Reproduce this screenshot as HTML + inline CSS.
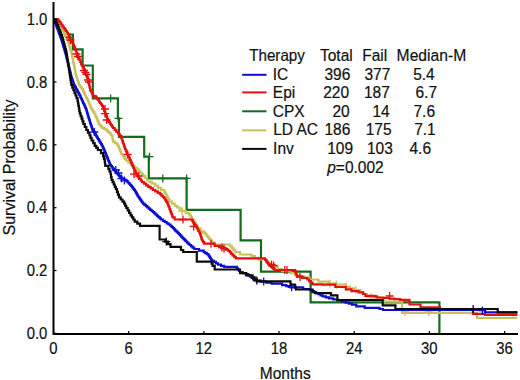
<!DOCTYPE html>
<html><head><meta charset="utf-8"><style>
html,body{margin:0;padding:0;background:#fff;width:520px;height:380px;overflow:hidden}
svg{display:block}
text{font-family:"Liberation Sans",sans-serif;font-size:15px;fill:#111;stroke:#111;stroke-width:0.2px}
.lg text{font-size:15.5px}
</style></head><body>
<svg width="520" height="380" viewBox="0 0 520 380">
<g fill="none" stroke-width="2.2" stroke-linejoin="miter" stroke-linecap="butt">
<path d="M68.5,34.5L72.9,34.5L72.9,49.4L82.6,49.4L82.6,65.5L92.8,65.5L92.8,98.4L117.9,98.4L117.9,118.4L119.0,118.4L119.0,136.8L144.2,136.8L144.2,156.7L148.8,156.7L148.8,178.4L186.6,178.4L186.6,209.8L240.6,209.8L240.6,240.3L261.0,240.3L261.0,271.7L310.6,271.7L310.6,302.3L439.4,302.3L439.4,334.0" stroke="#136c1c"/>
<path d="M110.6,94.4V102.4M106.6,98.4H114.6" stroke="#136c1c" stroke-width="1.3"/>
<path d="M118.4,114.4V122.4M114.4,118.4H122.4" stroke="#136c1c" stroke-width="1.3"/>
<path d="M149.5,152.7V160.7M145.5,156.7H153.5" stroke="#136c1c" stroke-width="1.3"/>
<path d="M162.8,174.4V182.4M158.8,178.4H166.8" stroke="#136c1c" stroke-width="1.3"/>
<path d="M186.6,174.4V182.4M182.6,178.4H190.6" stroke="#136c1c" stroke-width="1.3"/>
<path d="M54.5,19.2H56.3V21.4H57.4V23.3H58.5V25.1H59.6V27.0H60.7V28.8H61.9V30.7H63.0V32.6H64.1V34.4H65.2V36.3H66.3V38.1H67.4V40.0H67.9V41.8H68.5V43.5H69.0V45.2H69.5V47.0H70.0V48.8H70.5V50.5H71.1V52.2H71.6V54.0H72.0V55.8H72.3V57.7H72.7V59.5H73.1V61.3H73.4V63.2H73.8V65.0H74.2V66.8H74.5V68.7H74.9V70.5H75.3V72.3H75.6V74.2H76.0V76.0H76.6V77.8H77.2V79.6H77.8V81.4H78.4V83.2H79.0V85.0H80.3V87.1H81.7V89.2H83.0V91.3H84.0V93.4H85.0V95.5H86.0V97.6H86.9V99.4H87.8V101.2H88.7V103.0H89.5V105.0H90.3V107.0H91.3V108.8H92.4V110.6H93.4V112.4H94.5V114.5H95.5V116.6H96.6V118.7H97.3V120.3H98.0V121.9H98.7V123.5H99.4V125.1H100.8V126.5H102.1V127.9H104.4V129.3H106.7V130.7H108.1V132.1H109.5V133.4H110.9V135.2H112.3V137.1H112.5V138.6H112.8V140.2H113.0V141.7H115.0V143.1H116.9V144.5H117.8V145.9H118.7V147.3H119.3V149.0H120.0V150.7H120.7V152.3H121.3V154.0H122.5V155.6H123.7V157.2H124.8V158.9H126.0V160.5H128.4V162.7H130.8V164.8H132.9V166.4H135.0V167.9H137.1V169.5H138.7V171.1H140.2V172.8H141.8V174.4H143.4V176.0H145.2V178.0H147.0V180.0H149.5V181.8H152.0V183.5H155.0V185.7H158.0V187.9H161.2V190.1H164.5V192.3H165.5V194.2H166.5V196.0H167.5V197.9H168.5V199.7H169.5V201.6H172.1V203.7H174.7V205.8H177.1V207.5H179.6V209.3H182.0V211.0H185.8V213.2H189.5V215.3H190.8V217.2H192.0V219.1H193.3V220.9H194.5V222.8H195.8V224.7H196.9V226.3H197.9V227.8H198.9V229.4H200.0V231.0H202.7V232.6H205.3V234.2H206.6V235.8H207.9V237.3H209.2V238.9H210.5V240.5H212.1V242.1H213.7V243.7H214.0V244.5L228.4,244.5H230.1V246.4H231.9V248.3H233.6V250.2H235.3V252.1H240.0V254.5H251.6V256.0H254.8V257.8H257.9V259.5L265.0,259.5H266.6V261.3H268.3V263.1H270.0V265.0H271.6V266.8H277.9V269.0H282.0V271.0H290.5V273.2H294.8V274.8H299.0V276.3H304.2V277.9H309.5V279.5H318.4V281.6H329.0V283.7H336.3V284.7H345.8V286.8H350.0V288.4H354.2V290.0H360.5V292.1H363.6V294.2H366.8V296.3H371.0V297.4H379.5V298.8H381.6V300.2H383.7V301.6L402.0,301.6L402.0,312.8L477.0,312.8L477.0,318.0L517.4,318.0" stroke="#c9c25a"/>
<path d="M330.0,279.7V287.7M326.0,283.7H334.0" stroke="#c9c25a" stroke-width="1.3"/>
<path d="M336.3,280.7V288.7M332.3,284.7H340.3" stroke="#c9c25a" stroke-width="1.3"/>
<path d="M345.8,282.8V290.8M341.8,286.8H349.8" stroke="#c9c25a" stroke-width="1.3"/>
<path d="M355.9,286.0V294.0M351.9,290.0H359.9" stroke="#c9c25a" stroke-width="1.3"/>
<path d="M371.0,293.4V301.4M367.0,297.4H375.0" stroke="#c9c25a" stroke-width="1.3"/>
<path d="M404.9,308.0V316.0M400.9,312.0H408.9" stroke="#c9c25a" stroke-width="1.3"/>
<path d="M428.8,308.0V316.0M424.8,312.0H432.8" stroke="#c9c25a" stroke-width="1.3"/>
<path d="M182.0,207.0V215.0M178.0,211.0H186.0" stroke="#c9c25a" stroke-width="1.3"/>
<path d="M201.0,227.0V235.0M197.0,231.0H205.0" stroke="#c9c25a" stroke-width="1.3"/>
<path d="M54.5,19.2H57.4V19.3H58.4V20.8H59.5V22.2H60.5V23.7H61.6V25.1H62.6V26.6H63.7V28.1H64.7V29.6H65.8V31.0H66.8V32.5H67.9V34.0H68.6V35.6H69.2V37.2H69.8V38.9H70.5V40.5H71.8V42.5H73.2V44.5H73.8V46.1H74.5V47.8H75.2V49.4H75.8V51.0H76.4V53.0H77.1V55.0H78.0V56.8H78.8V58.5H79.7V60.3H80.4V62.0H81.0V63.8H81.7V65.5H82.7V67.5H83.7V69.5H84.7V71.5H85.7V73.4H86.3V75.2H87.0V76.9H87.6V78.7H88.0V80.2H88.3V81.7H88.7V83.2H89.0V84.8H89.4V86.3H89.8V87.8H90.1V89.3H90.5V90.8H91.4V92.5H92.3V94.3H93.2V96.0H95.8V97.4H96.8V98.7H97.9V100.0H98.9V101.5H99.9V103.0H101.0V104.4H102.0V105.9H103.0V107.4H103.6V109.1H104.2V110.8H104.9V112.4H105.5V114.1H106.1V115.8H106.8V117.5H107.4V119.1H108.0V120.8H109.0V122.2H110.0V123.7H111.0V125.1H112.0V126.6H113.0V128.0H114.7V129.8H116.3V131.6H118.0V133.4H119.0V134.6H120.0V135.8H121.3V137.9H121.8V139.5H122.4V141.1H122.9V142.7H123.4V144.2H124.0V145.8H124.5V147.4H125.1V149.0H125.7V150.6H126.4V152.1H127.0V153.7H127.6V155.3H128.4V156.9H129.2V158.4H130.0V160.0H130.8V161.6H131.4V163.2H132.1V164.8H132.7V166.3H133.4V167.9H134.0V169.5H134.8V171.1H135.6V172.7H136.3V174.2H137.1V175.8H138.3V177.4H139.5V178.9H140.7V180.5H141.9V182.1H144.0V183.7H146.1V185.3H148.2V186.9H150.6V188.4H153.0V190.0H155.3V191.4H157.7V192.8H160.0V194.2H161.4V195.6H162.8V197.0H164.2V198.4H165.3V200.2H166.3V201.9H167.4V203.7H168.1V205.5H168.8V207.2H169.5V209.0H170.1V210.7H170.7V212.4H171.4V214.0H172.0V215.7H172.6V217.4H174.7V219.5L191.6,219.5H192.3V220.9H193.0V222.3H193.7V223.7H194.7V225.1H195.8V226.6H196.8V228.0H197.6V229.5H198.4V231.0H199.2V232.5H200.0V234.0H200.5V235.6H201.0V237.2H201.5V238.9H202.0V240.5H203.1V242.1H204.2V243.7L211.6,243.7H214.7V245.8H220.0V246.8H222.8V248.2H225.6V249.6H228.4V251.0H229.8V252.4H231.2V253.9H232.6V255.3H234.2V256.9H235.8V258.4L264.2,258.4H265.2V260.0H266.3V261.6H267.4V263.0H268.4V264.4H269.5V265.8H271.2V267.2H273.0V268.6H274.7V270.0L294.7,270.0H295.2V271.6H295.8V273.1H296.3V274.7H296.8V276.3H302.1V277.9H307.4V279.5H309.1V281.1H310.9V282.7H312.6V284.3H322.6V284.7H335.3V287.0H345.8V289.4H351.5V291.1H358.5V292.3H363.0V294.0H365.4V295.8H374.6V296.3H376.9V297.5H383.8V298.0H389.6V298.6H394.2V299.2H400.0V299.8L409.5,299.8L409.5,304.5L420.5,304.5L420.5,307.3L440.0,307.3L440.0,309.2L473.0,309.2L473.0,313.8L485.0,313.8L485.0,315.0L517.4,315.0" stroke="#e41010"/>
<path d="M127.6,150.5V158.5M123.6,154.5H131.6" stroke="#e41010" stroke-width="1.3"/>
<path d="M134.0,170.2V178.2M130.0,174.2H138.0" stroke="#e41010" stroke-width="1.3"/>
<path d="M138.7,172.0V180.0M134.7,176.0H142.7" stroke="#e41010" stroke-width="1.3"/>
<path d="M105.0,105.0V113.0M101.0,109.0H109.0" stroke="#e41010" stroke-width="1.3"/>
<path d="M105.0,109.7V117.7M101.0,113.7H109.0" stroke="#e41010" stroke-width="1.3"/>
<path d="M106.7,116.0V124.0M102.7,120.0H110.7" stroke="#e41010" stroke-width="1.3"/>
<path d="M69.5,33.5V41.5M65.5,37.5H73.5" stroke="#e41010" stroke-width="1.3"/>
<path d="M70.5,36.0V44.0M66.5,40.0H74.5" stroke="#e41010" stroke-width="1.3"/>
<path d="M76.5,50.0V58.0M72.5,54.0H80.5" stroke="#e41010" stroke-width="1.3"/>
<path d="M78.0,52.5V60.5M74.0,56.5H82.0" stroke="#e41010" stroke-width="1.3"/>
<path d="M84.0,66.5V74.5M80.0,70.5H88.0" stroke="#e41010" stroke-width="1.3"/>
<path d="M85.5,68.5V76.5M81.5,72.5H89.5" stroke="#e41010" stroke-width="1.3"/>
<path d="M86.5,70.5V78.5M82.5,74.5H90.5" stroke="#e41010" stroke-width="1.3"/>
<path d="M88.0,76.0V84.0M84.0,80.0H92.0" stroke="#e41010" stroke-width="1.3"/>
<path d="M89.0,78.0V86.0M85.0,82.0H93.0" stroke="#e41010" stroke-width="1.3"/>
<path d="M183.0,215.5V223.5M179.0,219.5H187.0" stroke="#e41010" stroke-width="1.3"/>
<path d="M193.7,222.5V230.5M189.7,226.5H197.7" stroke="#e41010" stroke-width="1.3"/>
<path d="M211.0,239.7V247.7M207.0,243.7H215.0" stroke="#e41010" stroke-width="1.3"/>
<path d="M222.0,243.5V251.5M218.0,247.5H226.0" stroke="#e41010" stroke-width="1.3"/>
<path d="M224.0,244.5V252.5M220.0,248.5H228.0" stroke="#e41010" stroke-width="1.3"/>
<path d="M271.6,260.5V268.5M267.6,264.5H275.6" stroke="#e41010" stroke-width="1.3"/>
<path d="M273.7,261.5V269.5M269.7,265.5H277.7" stroke="#e41010" stroke-width="1.3"/>
<path d="M284.8,266.0V274.0M280.8,270.0H288.8" stroke="#e41010" stroke-width="1.3"/>
<path d="M287.0,266.0V274.0M283.0,270.0H291.0" stroke="#e41010" stroke-width="1.3"/>
<path d="M300.0,273.0V281.0M296.0,277.0H304.0" stroke="#e41010" stroke-width="1.3"/>
<path d="M389.6,292.0V300.0M385.6,296.0H393.6" stroke="#e41010" stroke-width="1.3"/>
<path d="M54.5,19.2H54.2V20.3H54.7V21.5H55.1V22.8H55.6V24.0H56.0V25.2H56.5V26.5H56.9V27.7H57.4V28.9H57.9V30.1H58.3V31.4H58.8V32.6H59.2V33.8H59.7V35.1H60.1V36.3H60.6V37.5H61.0V38.8H61.5V40.0H61.8V41.2H62.2V42.3H62.5V43.5H62.9V44.7H63.2V45.8H63.5V47.0H63.9V48.2H64.2V49.3H64.6V50.5H64.9V51.7H65.3V52.8H65.6V54.0H65.9V55.2H66.2V56.4H66.5V57.6H66.8V58.8H67.1V60.0H67.4V61.2H67.7V62.4H68.0V63.6H68.3V64.8H68.6V66.0H68.9V67.2H69.2V68.4H69.5V69.6H69.8V70.8H70.1V72.0H70.4V73.2H70.7V74.4H71.0V75.6H71.3V76.8H71.6V78.0H72.0V79.2H72.4V80.3H72.8V81.5H73.2V82.7H73.6V83.8H74.0V85.0H74.6V86.2H75.3V87.3H75.9V88.5H76.5V89.7H77.2V90.8H77.8V92.0H78.4V93.2H79.1V94.3H79.7V95.5H80.3V96.7H80.8V98.0H81.4V99.2H82.0V100.5H82.6V101.7H83.1V103.0H83.7V104.2H84.3V105.5H84.9V106.7H85.4V108.0H86.0V109.2H86.4V110.4H86.8V111.7H87.1V112.9H87.5V114.1H87.9V115.4H88.2V116.6H88.6V117.8H89.0V119.1H89.4V120.3H89.8V121.5H90.1V122.8H90.5V124.0H90.9V125.2H91.3V126.4H91.8V127.6H92.2V128.8H92.6V130.0H93.4V131.3H94.2V132.7H95.0V134.0H95.8V135.3H96.5V136.6H97.3V137.8H98.0V139.1H98.8V140.3H99.5V141.6H100.3V142.9H101.0V144.2H101.8V145.5H102.6V146.8H103.1V148.1H103.7V149.4H104.2V150.6H104.8V151.9H105.3V153.2H105.8V154.5H106.3V155.8H106.9V157.1H107.4V158.4H107.9V159.7H108.4V161.0H109.0V162.2H109.5V163.5H110.0V164.8H111.0V166.1H111.9V167.4H112.9V168.7H113.9V169.9H114.8V171.1H115.8V172.3H116.7V173.5H117.9V174.7H119.1V175.9H120.3V177.1H121.5V178.3H123.9V179.8H126.3V181.2H127.6V182.5H128.9V183.7H130.2V185.0H131.2V186.2H132.1V187.4H133.1V188.6H134.0V189.8H135.0V191.0H135.6V192.1H136.2V193.2H136.8V194.3H137.4V195.4H138.0V196.5H138.8V197.7H139.7V198.9H140.5V200.1H141.3V201.3H142.2V202.5H143.0V203.7H144.4V204.9H145.9V206.1H147.3V207.3H148.7V208.6H150.2V209.8H151.6V211.0H152.9V212.2H154.3V213.4H155.6V214.6H157.0V215.9H158.3V217.1H159.7V218.3H161.0V219.5H162.9V220.8H164.8V222.0H166.7V223.3H168.6V224.5H170.5V225.8H171.7V227.0H172.9V228.2H174.1V229.4H175.2V230.6H176.4V231.7H177.6V232.9H178.8V234.1H180.0V235.3H181.2V236.6H182.3V237.8H183.5V239.1H184.7V240.3H185.9V241.5H187.1V242.7H188.3V243.8H189.5V245.0H191.1V246.3H192.6V247.7H194.2V249.0H199.0V250.6H203.7V252.1H205.3V253.2H206.8V254.2H208.4V255.3H209.2V256.6H210.0V257.9H210.8V259.2H211.6V260.5H213.7V261.9H215.9V263.3H218.0V264.7H221.1V265.8H224.2V266.8H236.8V268.3H237.9V269.5H238.9V270.8H240.0V272.0H242.8V273.1H245.6V274.2H248.4V275.3H250.0V276.6H251.6V277.9H253.1V279.2H254.7V280.5H261.0V281.6H266.3V282.6H271.6V283.7H282.1V285.2H286.3V286.2H290.5V287.3H303.2V289.0H310.0V290.0H312.1V291.1H314.2V292.1H316.3V293.2H318.4V294.2H320.5V295.3H322.6V296.3H325.8V297.4H329.0V298.4H333.2V299.4H337.4V300.5H341.6V301.6H345.8V302.6H348.9V303.6H352.0V304.7H356.3V306.4H364.7V307.9H379.5V309.0H383.0V310.0H485.0V310.5L485.0,312.4L517.4,312.4" stroke="#0c0cd2"/>
<path d="M94.3,128.0V136.0M90.3,132.0H98.3" stroke="#0c0cd2" stroke-width="1.3"/>
<path d="M263.7,277.6V285.6M259.7,281.6H267.7" stroke="#0c0cd2" stroke-width="1.3"/>
<path d="M291.6,283.3V291.3M287.6,287.3H295.6" stroke="#0c0cd2" stroke-width="1.3"/>
<path d="M482.3,306.5V314.5M478.3,310.5H486.3" stroke="#0c0cd2" stroke-width="1.3"/>
<path d="M115.8,166.0V174.0M111.8,170.0H119.8" stroke="#0c0cd2" stroke-width="1.3"/>
<path d="M118.5,169.0V177.0M114.5,173.0H122.5" stroke="#0c0cd2" stroke-width="1.3"/>
<path d="M121.5,174.5V182.5M117.5,178.5H125.5" stroke="#0c0cd2" stroke-width="1.3"/>
<path d="M124.4,176.5V184.5M120.4,180.5H128.4" stroke="#0c0cd2" stroke-width="1.3"/>
<path d="M54.5,19.2H55.3V20.3H56.2V22.8H57.2V25.2H58.1V27.7H59.0V30.1H60.0V32.6H60.9V35.1H61.9V37.5H62.8V40.0H63.4V42.3H64.0V44.7H64.7V47.0H65.3V49.3H65.9V51.7H66.5V54.0H66.9V56.6H67.3V59.2H67.7V61.8H68.1V64.3H68.5V66.9H68.9V69.5H69.3V72.1H69.7V74.7H70.1V77.2H70.5V79.8H70.9V82.4H71.3V85.0H72.3V87.6H73.4V90.2H74.5V92.9H75.5V95.5H76.5V98.2H77.6V100.8H78.0V103.3H78.4V105.8H78.9V108.4H79.3V110.9H79.7V113.4H80.6V116.1H81.6V118.7H82.5V121.3H83.4V124.0H84.8V127.0H86.3V130.0H87.9V132.7H89.5V135.3H90.5V137.9H91.6V140.5H93.2V143.2H94.7V145.8H96.3V147.9H97.9V150.0H101.0V153.2H103.2V156.3H104.0V158.9H104.7V161.6H105.0V163.7H105.3V165.8H108.4V169.0H109.5V171.5H110.5V174.0H111.0V177.0H111.6V180.0H112.6V182.2H113.7V184.5H114.8V186.8H115.8V189.0H116.9V191.8H117.9V194.6H119.0V197.4H120.7V199.5H122.5V201.6H124.2V203.7H125.2V205.8H126.3V208.0H127.7V210.4H129.1V212.9H130.5V215.3H131.9V217.4H133.3V219.5H134.7V221.6H137.3V223.7H140.0V225.8L159.6,225.8L159.6,239.5H165.3V241.6H167.9V244.2H170.5V246.8H181.0V250.0H183.2V252.0L196.8,252.0L196.8,261.6L210.5,261.6H211.6V263.7H212.6V265.8H214.7V269.5L234.7,269.5H240.0V273.2H246.3V275.3H252.6V277.4H254.7V279.4H256.8V281.3L289.5,281.3H290.5V284.7H294.7V285.2H295.2V287.4H295.8V289.5L309.5,289.5H312.6V292.1L315.3,292.1L315.3,293.2L331.0,293.2L331.0,295.3L337.4,295.3L337.4,300.0L382.7,300.0L382.7,305.3L395.4,305.3L395.4,309.0L497.7,309.0L497.7,312.4L517.4,312.4" stroke="#0a0a0a"/>
<path d="M256.8,276.5V284.5M252.8,280.5H260.8" stroke="#0a0a0a" stroke-width="1.3"/>
<path d="M166.3,237.6V245.6M162.3,241.6H170.3" stroke="#0a0a0a" stroke-width="1.3"/>
<path d="M473.2,305.0V313.0M469.2,309.0H477.2" stroke="#0a0a0a" stroke-width="1.3"/>
</g>
<path d="M53.5,2V334H518" fill="none" stroke="#000" stroke-width="2"/>
<path d="M53.5,333V331" stroke="#000" stroke-width="1.2"/>
<text x="0" y="0" style="font-size:16.5px" transform="translate(49.36,353.50) scale(0.9,1)">0</text>
<path d="M128.7,333V331" stroke="#000" stroke-width="1.2"/>
<text x="0" y="0" style="font-size:16.5px" transform="translate(124.54,353.50) scale(0.9,1)">6</text>
<path d="M203.9,333V331" stroke="#000" stroke-width="1.2"/>
<text x="0" y="0" style="font-size:16.5px" transform="translate(195.58,353.50) scale(0.9,1)">12</text>
<path d="M279.0,333V331" stroke="#000" stroke-width="1.2"/>
<text x="0" y="0" style="font-size:16.5px" transform="translate(270.76,353.50) scale(0.9,1)">18</text>
<path d="M354.2,333V331" stroke="#000" stroke-width="1.2"/>
<text x="0" y="0" style="font-size:16.5px" transform="translate(345.94,353.50) scale(0.9,1)">24</text>
<path d="M429.4,333V331" stroke="#000" stroke-width="1.2"/>
<text x="0" y="0" style="font-size:16.5px" transform="translate(421.12,353.50) scale(0.9,1)">30</text>
<path d="M504.6,333V331" stroke="#000" stroke-width="1.2"/>
<text x="0" y="0" style="font-size:16.5px" transform="translate(496.30,353.50) scale(0.9,1)">36</text>
<path d="M54,333.3H56.5" stroke="#000" stroke-width="1.2"/>
<text x="0" y="0" style="font-size:16.5px" transform="translate(26.69,339.10) scale(0.9,1)">0.0</text>
<path d="M54,270.5H56.5" stroke="#000" stroke-width="1.2"/>
<text x="0" y="0" style="font-size:16.5px" transform="translate(26.69,276.28) scale(0.9,1)">0.2</text>
<path d="M54,207.7H56.5" stroke="#000" stroke-width="1.2"/>
<text x="0" y="0" style="font-size:16.5px" transform="translate(26.69,213.46) scale(0.9,1)">0.4</text>
<path d="M54,144.8H56.5" stroke="#000" stroke-width="1.2"/>
<text x="0" y="0" style="font-size:16.5px" transform="translate(26.69,150.64) scale(0.9,1)">0.6</text>
<path d="M54,82.0H56.5" stroke="#000" stroke-width="1.2"/>
<text x="0" y="0" style="font-size:16.5px" transform="translate(26.69,87.82) scale(0.9,1)">0.8</text>
<path d="M54,19.2H56.5" stroke="#000" stroke-width="1.2"/>
<text x="0" y="0" style="font-size:16.5px" transform="translate(26.69,25.00) scale(0.9,1)">1.0</text>
<g class="lg"><text x="0" y="0" style="font-size:16.5px" transform="translate(249.20,61.00) scale(0.92,1)">Therapy</text><text x="0" y="0" style="font-size:16.5px" transform="translate(320.00,61.00) scale(0.94,1)">Total</text><text x="0" y="0" style="font-size:16.5px" transform="translate(362.20,61.00) scale(0.94,1)">Fail</text><text x="0" y="0" style="font-size:16.5px" transform="translate(396.60,61.00) scale(0.95,1)">Median-M</text>
<path d="M242.2,74.8H266.5" stroke="#0c0cd2" stroke-width="2"/>
<text x="0" y="0" style="font-size:16.5px" transform="translate(272.80,79.60) scale(0.94,1)">IC</text><text x="0" y="0" style="font-size:16.5px" transform="translate(324.50,79.60) scale(0.94,1)">396</text><text x="0" y="0" style="font-size:16.5px" transform="translate(364.50,79.60) scale(0.94,1)">377</text><text x="0" y="0" style="font-size:16.5px" transform="translate(413.20,79.60) scale(0.94,1)">5.4</text>
<path d="M242.2,92.4H266.5" stroke="#e41010" stroke-width="2"/>
<text x="0" y="0" style="font-size:16.5px" transform="translate(272.80,98.20) scale(0.94,1)">Epi</text><text x="0" y="0" style="font-size:16.5px" transform="translate(323.20,98.20) scale(0.94,1)">220</text><text x="0" y="0" style="font-size:16.5px" transform="translate(364.00,98.20) scale(0.94,1)">187</text><text x="0" y="0" style="font-size:16.5px" transform="translate(415.50,98.20) scale(0.94,1)">6.7</text>
<path d="M242.2,111.3H266.5" stroke="#136c1c" stroke-width="2"/>
<text x="0" y="0" style="font-size:16.5px" transform="translate(272.70,116.80) scale(0.94,1)">CPX</text><text x="0" y="0" style="font-size:16.5px" transform="translate(332.50,116.80) scale(0.94,1)">20</text><text x="0" y="0" style="font-size:16.5px" transform="translate(372.50,116.80) scale(0.94,1)">14</text><text x="0" y="0" style="font-size:16.5px" transform="translate(413.50,116.80) scale(0.94,1)">7.6</text>
<path d="M242.2,130.3H266.5" stroke="#c9c25a" stroke-width="2"/>
<text x="0" y="0" style="font-size:16.5px" transform="translate(273.20,135.40) scale(0.94,1)">LD AC</text><text x="0" y="0" style="font-size:16.5px" transform="translate(324.50,135.40) scale(0.94,1)">186</text><text x="0" y="0" style="font-size:16.5px" transform="translate(365.70,135.40) scale(0.94,1)">175</text><text x="0" y="0" style="font-size:16.5px" transform="translate(414.20,135.40) scale(0.94,1)">7.1</text>
<path d="M242.2,148.9H266.5" stroke="#0a0a0a" stroke-width="2"/>
<text x="0" y="0" style="font-size:16.5px" transform="translate(273.10,154.00) scale(0.94,1)">Inv</text><text x="0" y="0" style="font-size:16.5px" transform="translate(327.20,154.00) scale(0.94,1)">109</text><text x="0" y="0" style="font-size:16.5px" transform="translate(367.00,154.00) scale(0.94,1)">103</text><text x="0" y="0" style="font-size:16.5px" transform="translate(409.50,154.00) scale(0.94,1)">4.6</text>
<text x="0" y="0" style="font-size:16.5px" transform="translate(327.20,172.80) scale(0.94,1)"><tspan font-style="italic">p</tspan>=0.002</text></g>
<text x="0" y="0" transform="translate(15,235.5) rotate(-90)" style="font-size:16px">Survival Probability</text>
<text x="0" y="0" style="font-size:16px" transform="translate(259.80,378.60) scale(0.97,1)">Months</text>
</svg>
</body></html>
